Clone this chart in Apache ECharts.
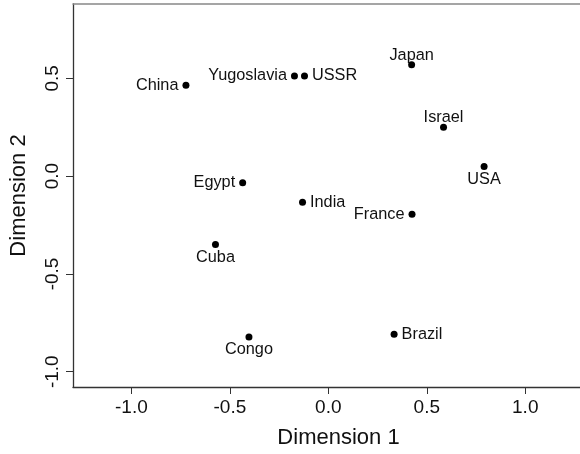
<!DOCTYPE html>
<html>
<head>
<meta charset="utf-8">
<script src="https://cdn.jsdelivr.net/npm/echarts@6/dist/echarts.min.js"></script>
<style>
  html, body { margin: 0; padding: 0; background: #fff; }
  #chart { width: 580px; height: 454px; }
</style>
</head>
<body>
<div id="chart"></div>
<script>
// Multidimensional scaling of nations: two-dimensional configuration
const nations = ['China', 'Yugoslavia', 'USSR', 'Japan', 'Israel', 'USA',
                 'India', 'France', 'Egypt', 'Cuba', 'Congo', 'Brazil'];
const dim1 = [-0.723, -0.172, -0.121, 0.423, 0.585, 0.791,
              -0.131, 0.425, -0.435, -0.573, -0.403, 0.334];
const dim2 = [0.464, 0.512, 0.512, 0.570, 0.250, 0.049,
              -0.134, -0.195, -0.034, -0.350, -0.823, -0.808];
const tickValues = [-1.0, -0.5, 0.0, 0.5, 1.0];

// where each name sits relative to its point
const labelSide = {
  China: 'left', Yugoslavia: 'left', USSR: 'right', Japan: 'top',
  Israel: 'top', USA: 'bottom', India: 'right', France: 'left',
  Egypt: 'left', Cuba: 'bottom', Congo: 'bottom', Brazil: 'right'
};
// names above the point hug it closer than those beside or below it
const sideGap = { left: 4, right: 4, top: -2, bottom: 1 };

const font = '"Liberation Sans", Arial, Helvetica, sans-serif';
const points = nations.map((n, i) => ({
  name: n,
  value: [dim1[i], dim2[i]],
  label: { position: labelSide[n], distance: sideGap[labelSide[n]] }
}));

const chart = echarts.init(document.getElementById('chart'), null, { renderer: 'canvas' });
const xRange = { min: -1.2965, max: 1.278 };
const yRange = { min: -1.078, max: 0.88 };

chart.setOption({
  animation: false,
  backgroundColor: '#ffffff',
  grid: { left: 71, top: 4, width: 509, height: 384.3, containLabel: false },
  xAxis: [{
    type: 'value', min: xRange.min, max: xRange.max, position: 'bottom',
    name: 'Dimension 1', nameLocation: 'middle', nameGap: 40,
    // the plotting region extends slightly past the canvas, so the title sits right of centre
    nameTextStyle: { fontFamily: font, fontSize: 22, color: '#111', padding: [0, 0, 0, 24] },
    axisLine: { show: true, onZero: false, lineStyle: { color: '#333', width: 1.3 } },
    axisTick: { show: true, length: 7, customValues: tickValues, lineStyle: { color: '#333' } },
    axisLabel: { customValues: tickValues, margin: 11, fontFamily: font, fontSize: 19, color: '#111',
                 formatter: v => v.toFixed(1) },
    splitLine: { show: false }
  }, {
    type: 'value', min: xRange.min, max: xRange.max, position: 'top',
    axisLine: { show: true, onZero: false, lineStyle: { color: '#888', width: 1.5 } },
    axisTick: { show: false }, axisLabel: { show: false }, splitLine: { show: false }
  }],
  yAxis: {
    type: 'value', min: yRange.min, max: yRange.max,
    name: 'Dimension 2', nameLocation: 'middle', nameGap: 43, nameRotate: 90,
    nameTextStyle: { fontFamily: font, fontSize: 22, color: '#111' },
    axisLine: { show: true, onZero: false, lineStyle: { color: '#333', width: 1.3 } },
    axisTick: { show: true, length: 7, customValues: tickValues, lineStyle: { color: '#333' } },
    axisLabel: { customValues: tickValues, rotate: 90, margin: 11, fontFamily: font, fontSize: 19,
                 color: '#111', formatter: v => v.toFixed(1) },
    splitLine: { show: false }
  },
  series: [{
    type: 'scatter',
    xAxisIndex: 0,
    symbol: 'circle',
    symbolSize: 7,
    itemStyle: { color: '#000', opacity: 1 },
    label: {
      show: true, formatter: p => p.name,
      fontFamily: font, fontSize: 16.3, color: '#111'
    },
    data: points
  }]
});
</script>
</body>
</html>
